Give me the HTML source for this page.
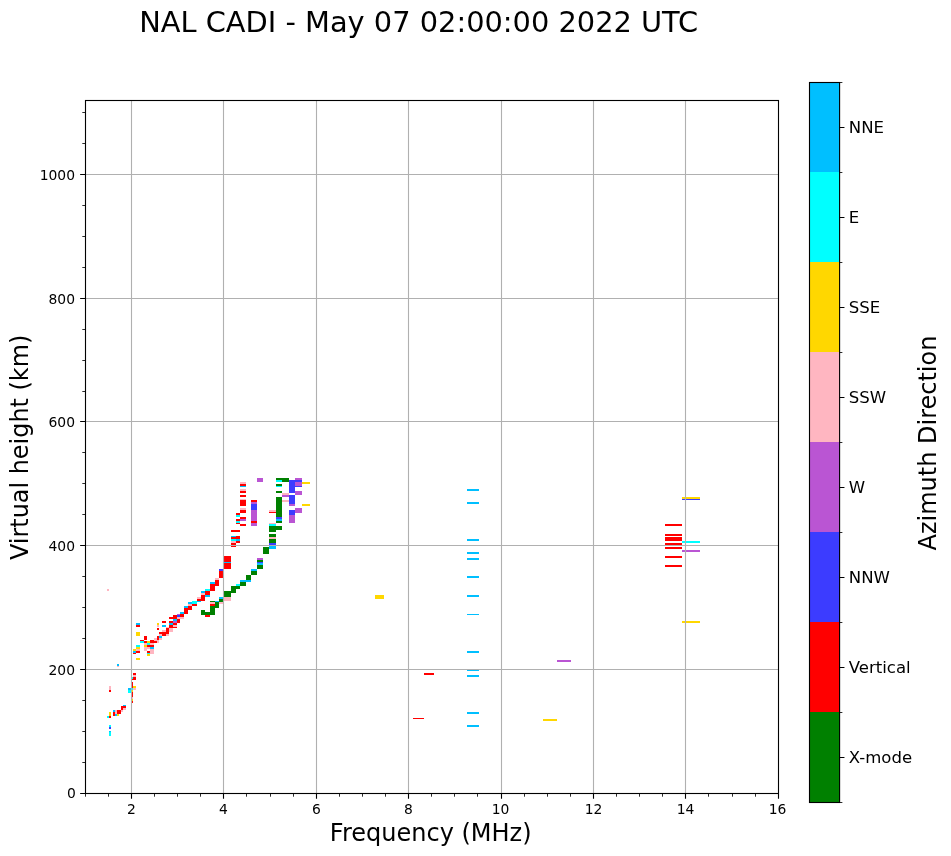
<!DOCTYPE html>
<html lang="en"><head><meta charset="utf-8"><title>NAL CADI ionogram</title>
<style>
html,body{margin:0;padding:0;background:#fff;}
body{width:951px;height:856px;overflow:hidden;}
svg{display:block;will-change:transform;transform:translateZ(0);font-family:"DejaVu Sans","Liberation Sans",sans-serif;fill:#000;}
.t10{font-size:13.89px}.t12{font-size:16.55px}.t17{font-size:24px}.t20{font-size:28.85px}
</style></head><body>
<svg width="951" height="856" viewBox="0 0 951 856">
<rect width="951" height="856" fill="#fff"/>
<g shape-rendering="crispEdges" stroke="none">
<path fill="#00FFFF" d="M107 716h2v2h-2zM109 725h2v2h-2zM109 732h2v4h-2zM128 690h3v3h-3zM131 677h2v2h-2zM131 688h2v2h-2zM136 645h4v2h-4zM140 641h4v2h-4zM147 643h3v2h-3zM147 653h3v1h-3zM192 601h5v3h-5zM205 589h5v2h-5zM231 539h5v2h-5zM236 515h4v2h-4zM236 521h4v2h-4zM236 584h4v2h-4zM269 524h7v2h-7zM276 480h6v2h-6zM276 486h6v1h-6zM682 541h18v2h-18z"/>
<path fill="#FFB6C1" d="M107 589h2v2h-2zM109 686h2v4h-2zM115 710h2v4h-2zM117 666h2v1h-2zM121 710h2v2h-2zM123 708h3v2h-3zM131 697h2v2h-2zM133 675h3v2h-3zM133 688h3v2h-3zM136 649h4v2h-4zM144 643h3v2h-3zM144 647h3v4h-3zM147 647h3v2h-3zM150 643h4v2h-4zM150 649h4v5h-4zM154 638h3v2h-3zM154 640h3v1h-3zM157 625h2v2h-2zM157 640h2v3h-2zM159 634h3v2h-3zM159 638h3v2h-3zM162 630h4v2h-4zM166 627h3v1h-3zM166 634h3v2h-3zM169 628h4v4h-4zM173 625h4v2h-4zM177 617h3v2h-3zM180 617h4v2h-4zM188 604h4v2h-4zM197 597h4v2h-4zM201 593h4v2h-4zM210 602h5v2h-5zM215 578h4v2h-4zM219 602h4v2h-4zM223 597h8v4h-8zM231 541h5v2h-5zM240 482h6v2h-6zM240 489h6v2h-6zM240 499h6v1h-6zM240 508h6v2h-6zM269 510h7v2h-7zM269 523h7v1h-7zM269 537h7v2h-7zM282 493h7v2h-7zM282 500h7v2h-7z"/>
<path fill="#FF0000" d="M109 690h2v2h-2zM109 716h2v2h-2zM113 712h2v4h-2zM117 710h2v4h-2zM119 710h2v4h-2zM121 706h2v4h-2zM123 706h3v2h-3zM131 679h2v1h-2zM131 682h2v6h-2zM131 692h2v5h-2zM131 701h2v2h-2zM133 673h3v2h-3zM133 677h3v3h-3zM133 653h3v1h-3zM136 625h4v2h-4zM136 651h4v2h-4zM140 640h4v1h-4zM144 636h3v4h-3zM144 641h3v2h-3zM147 645h3v2h-3zM147 651h3v2h-3zM150 640h4v3h-4zM150 645h4v2h-4zM154 641h3v2h-3zM157 628h2v2h-2zM157 636h2v4h-2zM159 632h3v2h-3zM162 621h4v2h-4zM162 632h4v4h-4zM166 628h3v6h-3zM169 617h4v2h-4zM169 621h4v2h-4zM169 625h4v3h-4zM173 615h4v4h-4zM173 623h4v2h-4zM173 627h4v1h-4zM177 619h3v4h-3zM180 614h4v3h-4zM184 608h4v6h-4zM188 606h4v4h-4zM192 604h5v2h-5zM197 599h4v2h-4zM201 595h4v6h-4zM205 591h5v4h-5zM205 615h5v2h-5zM210 584h5v7h-5zM210 604h5v2h-5zM215 580h4v6h-4zM219 571h4v7h-4zM223 556h8v6h-8zM223 563h8v6h-8zM231 530h5v2h-5zM231 537h5v2h-5zM231 543h5v4h-5zM236 513h4v2h-4zM236 519h4v2h-4zM236 523h4v1h-4zM236 530h4v2h-4zM236 536h4v3h-4zM236 541h4v2h-4zM240 484h6v2h-6zM240 491h6v2h-6zM240 495h6v2h-6zM240 500h6v6h-6zM240 510h6v3h-6zM240 517h6v2h-6zM240 524h6v2h-6zM251 500h6v2h-6zM251 521h6v2h-6zM269 512h7v1h-7zM424 673h10v2h-10zM413 718h11v1h-11zM665 524h17v2h-17zM665 534h17v2h-17zM665 537h17v4h-17zM665 543h17v2h-17zM665 547h17v2h-17zM665 556h17v2h-17zM665 565h17v2h-17z"/>
<path fill="#FFD700" d="M109 712h2v4h-2zM117 714h2v2h-2zM131 690h2v2h-2zM131 699h2v2h-2zM133 686h3v2h-3zM133 649h3v2h-3zM136 632h4v4h-4zM136 647h4v2h-4zM136 658h4v2h-4zM144 645h3v2h-3zM147 641h3v2h-3zM147 654h3v2h-3zM157 623h2v2h-2zM302 482h8v2h-8zM302 504h8v2h-8zM375 595h9v4h-9zM543 719h14v2h-14zM682 497h18v2h-18zM682 621h18v2h-18z"/>
<path fill="#3C3CFF" d="M109 727h2v2h-2zM177 615h3v2h-3zM219 569h4v2h-4zM251 504h6v6h-6zM257 562h6v1h-6zM269 543h7v2h-7zM276 517h6v2h-6zM289 480h6v13h-6zM289 495h6v9h-6zM289 510h6v5h-6zM295 480h7v2h-7zM295 486h7v1h-7zM682 499h18v1h-18z"/>
<path fill="#00BFFF" d="M109 731h2v1h-2zM113 710h2v2h-2zM115 714h2v2h-2zM117 664h2v2h-2zM123 705h3v1h-3zM128 688h3v2h-3zM133 651h3v2h-3zM136 623h4v2h-4zM150 647h4v2h-4zM159 636h3v2h-3zM162 625h4v2h-4zM169 623h4v2h-4zM173 619h4v2h-4zM180 612h4v2h-4zM184 606h4v2h-4zM188 602h4v2h-4zM197 601h4v1h-4zM201 591h4v2h-4zM205 595h5v2h-5zM210 582h5v2h-5zM215 601h4v1h-4zM219 597h4v2h-4zM223 562h8v1h-8zM231 536h5v1h-5zM236 539h4v2h-4zM240 486h6v1h-6zM240 580h6v2h-6zM246 580h5v2h-5zM251 569h6v2h-6zM257 563h6v2h-6zM269 545h7v4h-7zM276 519h6v2h-6zM467 489h12v2h-12zM467 502h12v2h-12zM467 539h12v2h-12zM467 552h12v2h-12zM467 558h12v2h-12zM467 576h12v2h-12zM467 595h12v2h-12zM467 614h12v1h-12zM467 651h12v2h-12zM467 669h12v2h-12zM467 675h12v2h-12zM467 712h12v2h-12zM467 725h12v2h-12z"/>
<path fill="#BA55D3" d="M173 621h4v2h-4zM177 614h3v1h-3zM240 519h6v2h-6zM251 502h6v2h-6zM251 510h6v11h-6zM251 523h6v3h-6zM257 478h6v4h-6zM257 558h6v2h-6zM282 495h7v2h-7zM289 504h6v2h-6zM289 515h6v8h-6zM295 478h7v2h-7zM295 482h7v4h-7zM295 491h7v4h-7zM295 508h7v5h-7zM557 660h14v2h-14zM682 550h18v2h-18z"/>
<path fill="#008000" d="M201 610h4v5h-4zM205 612h5v3h-5zM210 601h5v1h-5zM210 606h5v9h-5zM215 602h4v6h-4zM219 599h4v3h-4zM223 591h8v6h-8zM231 586h5v7h-5zM236 586h4v3h-4zM240 582h6v4h-6zM246 575h5v5h-5zM251 571h6v4h-6zM257 560h6v2h-6zM257 565h6v4h-6zM263 547h6v7h-6zM269 526h7v6h-7zM269 534h7v3h-7zM269 539h7v4h-7zM276 478h6v2h-6zM276 484h6v2h-6zM276 491h6v2h-6zM276 497h6v20h-6zM276 521h6v2h-6zM276 526h6v4h-6zM282 478h7v4h-7z"/>
</g>

<path d="M131.50 100.5V793.5M223.50 100.5V793.5M316.50 100.5V793.5M408.50 100.5V793.5M501.50 100.5V793.5M593.50 100.5V793.5M685.50 100.5V793.5M85.5 669.50H778.5M85.5 545.50H778.5M85.5 421.50H778.5M85.5 298.50H778.5M85.5 174.50H778.5" stroke="#b0b0b0" stroke-width="1.11" fill="none"/>
<path d="M131.50 793.5v5.36M223.50 793.5v5.36M316.50 793.5v5.36M408.50 793.5v5.36M501.50 793.5v5.36M593.50 793.5v5.36M685.50 793.5v5.36M778.50 793.5v5.36M85.5 793.50h-5.36M85.5 669.50h-5.36M85.5 545.50h-5.36M85.5 421.50h-5.36M85.5 298.50h-5.36M85.5 174.50h-5.36" stroke="#000" stroke-width="1.11" fill="none"/>
<path d="M85.50 793.5v3.2M108.50 793.5v3.2M154.50 793.5v3.2M177.50 793.5v3.2M200.50 793.5v3.2M246.50 793.5v3.2M270.50 793.5v3.2M293.50 793.5v3.2M339.50 793.5v3.2M362.50 793.5v3.2M385.50 793.5v3.2M431.50 793.5v3.2M454.50 793.5v3.2M477.50 793.5v3.2M524.50 793.5v3.2M547.50 793.5v3.2M570.50 793.5v3.2M616.50 793.5v3.2M639.50 793.5v3.2M662.50 793.5v3.2M708.50 793.5v3.2M732.50 793.5v3.2M755.50 793.5v3.2M85.5 762.50h-3.2M85.5 731.50h-3.2M85.5 700.50h-3.2M85.5 638.50h-3.2M85.5 607.50h-3.2M85.5 576.50h-3.2M85.5 514.50h-3.2M85.5 483.50h-3.2M85.5 452.50h-3.2M85.5 391.50h-3.2M85.5 360.50h-3.2M85.5 329.50h-3.2M85.5 267.50h-3.2M85.5 236.50h-3.2M85.5 205.50h-3.2M85.5 143.50h-3.2M85.5 112.50h-3.2" stroke="#000" stroke-width="0.83" fill="none"/>
<rect x="85.5" y="100.5" width="693.00" height="693.00" fill="none" stroke="#000" stroke-width="1.11"/>
<g class="t10" text-anchor="middle"><text x="131.50" y="813.8">2</text><text x="223.50" y="813.8">4</text><text x="316.50" y="813.8">6</text><text x="408.50" y="813.8">8</text><text x="500.50" y="813.8">10</text><text x="593.50" y="813.8">12</text><text x="685.50" y="813.8">14</text><text x="777.50" y="813.8">16</text></g>
<g class="t10" text-anchor="end"><text x="75.9" y="797.8">0</text><text x="75.0" y="674.85">200</text><text x="75.0" y="550.85">400</text><text x="75.0" y="426.9">600</text><text x="75.0" y="303.9">800</text><text x="75.0" y="179.9">1000</text></g>
<text class="t17" text-anchor="middle" x="430.70" y="840.5">Frequency (MHz)</text>
<text class="t17" text-anchor="middle" style="font-size:23.92px" transform="translate(27.65 447.35) rotate(-90)">Virtual height (km)</text>
<text class="t20" text-anchor="middle" x="418.7" y="32">NAL CADI - May 07 02:00:00 2022 UTC</text>
<g shape-rendering="crispEdges"><rect x="810" y="712" width="30" height="90" fill="#008000"/><rect x="810" y="622" width="30" height="90" fill="#FF0000"/><rect x="810" y="532" width="30" height="90" fill="#3C3CFF"/><rect x="810" y="442" width="30" height="90" fill="#BA55D3"/><rect x="810" y="352" width="30" height="90" fill="#FFB6C1"/><rect x="810" y="262" width="30" height="90" fill="#FFD700"/><rect x="810" y="172" width="30" height="90" fill="#00FFFF"/><rect x="810" y="82" width="30" height="90" fill="#00BFFF"/></g>
<path d="M839.6 757.50h4.86M839.6 667.50h4.86M839.6 577.50h4.86M839.6 487.50h4.86M839.6 397.50h4.86M839.6 307.50h4.86M839.6 217.50h4.86M839.6 127.50h4.86" stroke="#000" stroke-width="1.11" fill="none"/>
<path d="M839.6 802.50h2.78M839.6 712.50h2.78M839.6 622.50h2.78M839.6 532.50h2.78M839.6 442.50h2.78M839.6 352.50h2.78M839.6 262.50h2.78M839.6 172.50h2.78M839.6 82.50h2.78" stroke="#000" stroke-width="0.83" fill="none"/>
<rect x="809.5" y="82.5" width="30.10" height="720.00" fill="none" stroke="#000" stroke-width="1.11"/>
<g class="t12"><text x="848.8" y="762.50">X-mode</text><text x="848.8" y="672.50">Vertical</text><text x="848.8" y="582.50">NNW</text><text x="848.8" y="492.50">W</text><text x="848.8" y="402.50">SSW</text><text x="848.8" y="312.50">SSE</text><text x="848.8" y="222.50">E</text><text x="848.8" y="132.50">NNE</text></g>
<text class="t17" text-anchor="middle" transform="translate(936.3 443.05) rotate(-90)">Azimuth Direction</text>
</svg>
</body></html>
